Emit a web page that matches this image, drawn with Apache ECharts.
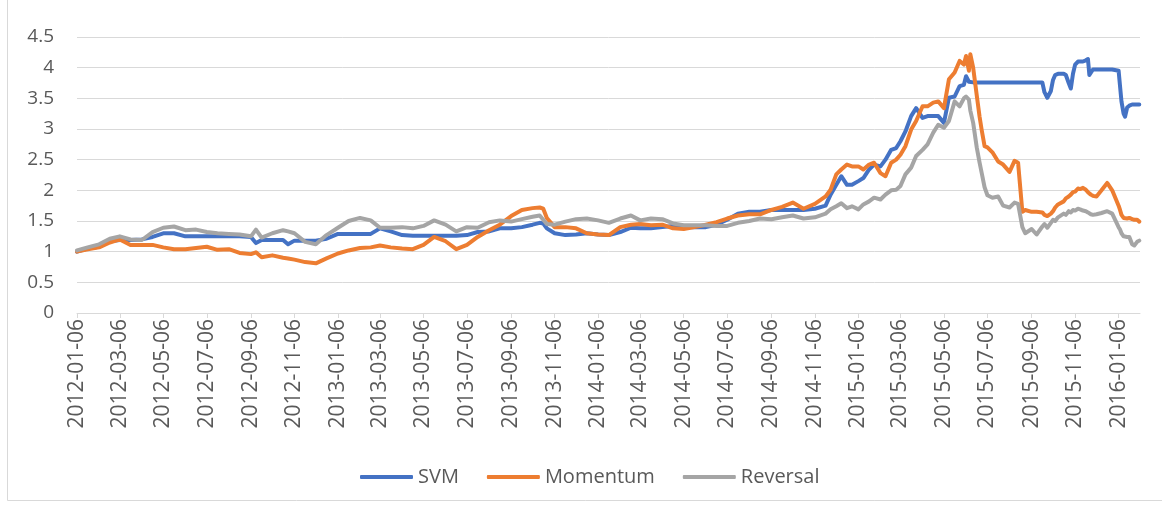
<!DOCTYPE html>
<html>
<head>
<meta charset="utf-8">
<script src="https://cdn.jsdelivr.net/npm/echarts@6/dist/echarts.min.js"></script>
<style>
  html, body { margin: 0; padding: 0; background: #ffffff; }
  #chart { width: 1162px; height: 511px; }
</style>
</head>
<body>
<div id="chart"></div>
<script>
const dates = [
  '2012-01-06','2012-01-21','2012-02-06','2012-02-21','2012-03-06','2012-03-21','2012-04-06','2012-04-21',
  '2012-05-06','2012-05-21','2012-06-06','2012-06-21','2012-07-06','2012-07-21','2012-08-06','2012-08-21',
  '2012-09-06','2012-09-13','2012-09-21','2012-10-06','2012-10-21','2012-10-28','2012-11-06','2012-11-21',
  '2012-12-06','2012-12-21',
  '2013-01-06','2013-01-21','2013-02-06','2013-02-21','2013-03-06','2013-03-21','2013-04-06','2013-04-21',
  '2013-05-06','2013-05-21','2013-06-06','2013-06-21','2013-07-06','2013-07-21','2013-08-06','2013-08-21',
  '2013-09-06','2013-09-21','2013-10-06','2013-10-16','2013-10-21','2013-10-26','2013-11-06','2013-11-21',
  '2013-12-06','2013-12-21',
  '2014-01-06','2014-01-21','2014-02-06','2014-02-21','2014-03-06','2014-03-21','2014-04-06','2014-04-21',
  '2014-05-06','2014-05-21','2014-06-06','2014-06-21','2014-07-06','2014-07-21','2014-08-06','2014-08-21',
  '2014-09-06','2014-09-21','2014-10-06','2014-10-21','2014-11-06','2014-11-21','2014-11-28','2014-12-06',
  '2014-12-13','2014-12-21','2014-12-28',
  '2015-01-06','2015-01-13','2015-01-21','2015-01-28','2015-02-06','2015-02-13','2015-02-21','2015-02-28',
  '2015-03-06','2015-03-13','2015-03-21','2015-03-28','2015-04-06','2015-04-13','2015-04-21','2015-04-28',
  '2015-05-06','2015-05-13','2015-05-21','2015-05-28','2015-06-03','2015-06-06','2015-06-10','2015-06-12',
  '2015-06-16','2015-06-21','2015-06-25','2015-06-28','2015-07-02','2015-07-06','2015-07-13','2015-07-21',
  '2015-07-28','2015-08-06','2015-08-13','2015-08-18','2015-08-24','2015-08-28','2015-09-06','2015-09-13',
  '2015-09-21','2015-09-24','2015-09-28','2015-10-03','2015-10-06','2015-10-09','2015-10-13','2015-10-21',
  '2015-10-24','2015-10-28','2015-10-31','2015-11-03','2015-11-06','2015-11-10','2015-11-13','2015-11-17',
  '2015-11-21','2015-11-24','2015-11-26','2015-11-28','2015-12-01','2015-12-06','2015-12-13','2015-12-21',
  '2015-12-28',
  '2016-01-06','2016-01-08','2016-01-10','2016-01-13','2016-01-15','2016-01-18','2016-01-21','2016-01-25',
  '2016-01-28','2016-02-01','2016-02-04'
];

const svm = [
  1.00,1.05,1.08,1.17,1.19,1.19,1.20,1.24,
  1.30,1.30,1.25,1.25,1.25,1.25,1.25,1.25,
  1.24,1.14,1.19,1.19,1.19,1.12,1.18,1.18,
  1.18,1.21,
  1.29,1.29,1.29,1.29,1.38,1.33,1.27,1.26,
  1.26,1.26,1.26,1.26,1.27,1.32,1.33,1.38,
  1.38,1.40,1.44,1.47,1.46,1.38,1.30,1.27,
  1.28,1.30,
  1.28,1.27,1.32,1.39,1.38,1.38,1.40,1.42,
  1.40,1.40,1.40,1.44,1.52,1.62,1.65,1.65,
  1.68,1.68,1.68,1.68,1.70,1.75,1.93,2.09,
  2.23,2.09,2.09,
  2.15,2.20,2.34,2.42,2.39,2.50,2.66,2.69,
  2.80,2.96,3.21,3.34,3.18,3.21,3.21,3.21,
  3.10,3.51,3.53,3.70,3.72,3.86,3.77,3.76,
  3.76,3.76,3.76,3.76,3.76,3.76,3.76,3.76,
  3.76,3.76,3.76,3.76,3.76,3.76,3.76,3.76,
  3.76,3.60,3.51,3.62,3.80,3.88,3.90,3.90,
  3.88,3.75,3.66,3.90,4.05,4.10,4.10,4.10,
  4.12,4.14,3.88,3.90,3.97,3.97,3.97,3.97,
  3.97,
  3.95,3.70,3.45,3.25,3.20,3.35,3.38,3.40,
  3.40,3.40,3.40
];

const momentum = [
  1.00,1.04,1.07,1.15,1.20,1.11,1.11,1.11,
  1.07,1.04,1.04,1.06,1.08,1.03,1.04,0.98,
  0.96,0.99,0.91,0.94,0.90,0.89,0.87,0.83,
  0.81,0.89,
  0.97,1.02,1.06,1.07,1.10,1.07,1.05,1.04,
  1.11,1.24,1.17,1.04,1.11,1.24,1.35,1.44,
  1.58,1.68,1.71,1.72,1.70,1.55,1.40,1.40,
  1.38,1.30,
  1.28,1.27,1.40,1.44,1.45,1.43,1.44,1.38,
  1.37,1.40,1.44,1.48,1.54,1.59,1.61,1.61,
  1.68,1.73,1.80,1.70,1.78,1.90,2.01,2.26,
  2.34,2.42,2.39,
  2.39,2.34,2.42,2.45,2.28,2.23,2.45,2.50,
  2.58,2.72,2.99,3.13,3.37,3.37,3.43,3.45,
  3.34,3.81,3.92,4.11,4.05,4.19,3.95,4.22,
  4.00,3.55,3.20,2.98,2.72,2.70,2.62,2.47,
  2.42,2.30,2.48,2.45,1.65,1.68,1.65,1.65,
  1.64,1.60,1.58,1.62,1.66,1.72,1.77,1.82,
  1.87,1.90,1.93,1.97,1.98,2.03,2.02,2.04,
  2.01,1.97,1.95,1.93,1.91,1.90,2.00,2.12,
  2.00,
  1.75,1.68,1.60,1.55,1.56,1.54,1.55,1.53,
  1.52,1.52,1.49
];

const reversal = [
  1.02,1.07,1.12,1.21,1.25,1.20,1.19,1.32,
  1.39,1.41,1.35,1.36,1.32,1.30,1.29,1.28,
  1.25,1.36,1.23,1.30,1.35,1.33,1.30,1.16,
  1.12,1.27,
  1.39,1.50,1.55,1.51,1.39,1.39,1.40,1.38,
  1.42,1.51,1.44,1.33,1.40,1.39,1.48,1.51,
  1.49,1.53,1.57,1.59,1.52,1.45,1.44,1.49,
  1.53,1.54,
  1.51,1.47,1.54,1.59,1.51,1.54,1.53,1.46,
  1.43,1.43,1.43,1.42,1.42,1.47,1.50,1.54,
  1.53,1.56,1.59,1.54,1.56,1.62,1.69,1.74,
  1.79,1.71,1.74,
  1.69,1.77,1.82,1.88,1.85,1.93,2.00,2.01,
  2.07,2.26,2.37,2.56,2.66,2.75,2.94,3.07,
  3.02,3.13,3.45,3.37,3.50,3.53,3.48,3.30,
  3.10,2.70,2.45,2.28,2.05,1.92,1.88,1.90,
  1.75,1.72,1.80,1.78,1.40,1.30,1.37,1.28,
  1.41,1.45,1.39,1.47,1.52,1.50,1.56,1.62,
  1.60,1.66,1.64,1.68,1.67,1.70,1.69,1.67,
  1.66,1.64,1.62,1.61,1.60,1.61,1.63,1.66,
  1.62,
  1.40,1.36,1.30,1.25,1.27,1.24,1.24,1.12,
  1.10,1.16,1.18
];

const tickDates = [
  '2012-01-06','2012-03-06','2012-05-06','2012-07-06','2012-09-06','2012-11-06',
  '2013-01-06','2013-03-06','2013-05-06','2013-07-06','2013-09-06','2013-11-06',
  '2014-01-06','2014-03-06','2014-05-06','2014-07-06','2014-09-06','2014-11-06',
  '2015-01-06','2015-03-06','2015-05-06','2015-07-06','2015-09-06','2015-11-06',
  '2016-01-06'
];
const axisStart = '2012-01-06';
const axisEnd = '2016-02-05';
const seriesNames = ['SVM', 'Momentum', 'Reversal'];
const seriesColors = ['#4472C4', '#ED7D31', '#A5A5A5'];

const DAY = 86400000;
function utc(s) {
  const p = s.split('-').map(Number);
  return Date.UTC(p[0], p[1] - 1, p[2]);
}
const t0 = utc(axisStart);
function dayIndex(s) { return Math.round((utc(s) - t0) / DAY); }
function pad(n) { return (n < 10 ? '0' : '') + n; }
function fmtDay(v) {
  const d = new Date(t0 + Math.round(v) * DAY);
  return d.getUTCFullYear() + '-' + pad(d.getUTCMonth() + 1) + '-' + pad(d.getUTCDate());
}

const tickDays = tickDates.map(dayIndex);
const allSeries = [svm, momentum, reversal];

const chart = echarts.init(document.getElementById('chart'), null, { renderer: 'canvas' });
const textColor = '#595959';
const fontFamily = '"Open Sans", "Noto Sans", sans-serif';

chart.setOption({
  backgroundColor: '#ffffff',
  animation: false,
  textStyle: { fontFamily: fontFamily },
  graphic: [{
    type: 'rect',
    shape: { x: 7.5, y: -10, width: 1200, height: 510.5 },
    style: { fill: 'none', stroke: '#D9D9D9', lineWidth: 1 },
    silent: true
  }],
  grid: {
    left: 77, right: 22, top: 37, bottom: 198,
    containLabel: false,
    outerBoundsMode: 'none'
  },
  legend: {
    data: seriesNames,
    left: 355,
    top: 462,
    icon: 'roundRect',
    itemWidth: 53,
    itemHeight: 4,
    itemGap: 28,
    textStyle: { color: textColor, fontSize: 20, fontFamily: fontFamily }
  },
  xAxis: {
    type: 'value',
    min: 0,
    max: dayIndex(axisEnd),
    splitLine: { show: false },
    axisLine: { show: true, lineStyle: { color: '#D9D9D9', width: 1 } },
    axisTick: {
      show: true,
      customValues: tickDays,
      length: 5,
      lineStyle: { color: '#D9D9D9', width: 1 }
    },
    axisLabel: {
      customValues: tickDays,
      rotate: 90,
      margin: 6,
      color: textColor,
      fontSize: 21,
      fontFamily: fontFamily,
      formatter: function (v) { return fmtDay(v); }
    }
  },
  yAxis: {
    type: 'value',
    min: 0,
    max: 4.5,
    interval: 0.5,
    axisLine: { show: false },
    axisTick: { show: false },
    splitLine: { show: true, lineStyle: { color: '#D9D9D9', width: 1 } },
    axisLabel: {
      color: textColor,
      fontSize: 19,
      margin: 23,
      fontFamily: fontFamily,
      formatter: function (v) { return String(Math.round(v * 10) / 10); }
    }
  },
  series: allSeries.map(function (vals, i) {
    return {
      name: seriesNames[i],
      type: 'line',
      data: dates.map(function (d, j) { return [dayIndex(d), vals[j]]; }),
      showSymbol: false,
      symbol: 'none',
      lineStyle: { color: seriesColors[i], width: 4, join: 'round', cap: 'round' },
      itemStyle: { color: seriesColors[i] },
      emphasis: { disabled: true }
    };
  })
});
</script>
</body>
</html>
